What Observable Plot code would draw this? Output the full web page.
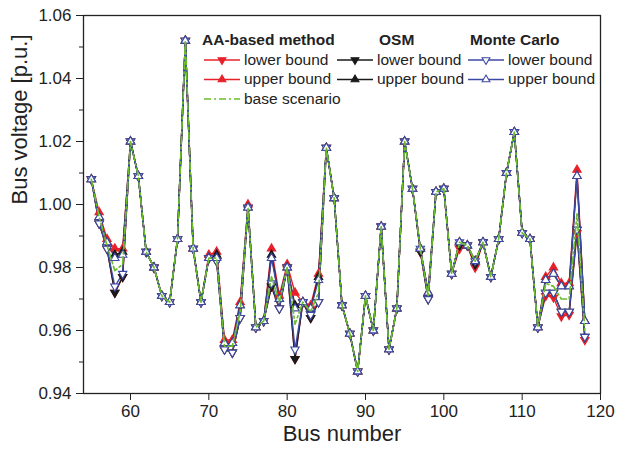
<!DOCTYPE html>
<html><head><meta charset="utf-8">
<script src="https://cdn.jsdelivr.net/npm/d3@7"></script>
<script src="https://cdn.jsdelivr.net/npm/@observablehq/plot@0.6"></script>
<style>
html,body{margin:0;padding:0;background:#fff;}
#wrap{position:relative;width:617px;height:453px;font-family:"Liberation Sans",Arial,sans-serif;}
#legend{position:absolute;left:0;top:0;pointer-events:none;}
</style></head><body><div id="wrap"></div>
<script>
// ---- data ----
const bus = [55,56,57,58,59,60,61,62,63,64,65,66,67,68,69,70,71,72,73,74,75,76,77,78,79,80,81,82,83,84,85,86,87,88,89,90,91,92,93,94,95,96,97,98,99,100,101,102,103,104,105,106,107,108,109,110,111,112,113,114,115,116,117,118];

const baseScenario = [1.008,0.996,0.987,0.979,0.981,1.020,1.009,0.985,0.980,0.971,
  0.969,0.989,1.052,0.986,0.969,0.983,0.983,0.955,0.955,0.966,
  0.999,0.961,0.963,0.977,0.969,0.980,0.962,0.969,0.966,0.972,
  1.018,1.002,0.968,0.959,0.947,0.971,0.960,0.993,0.954,0.967,
  1.020,1.005,0.986,0.971,1.004,1.005,0.978,0.988,0.987,0.982,
  0.988,0.977,0.989,1.010,1.023,0.991,0.989,0.961,0.975,0.974,
  0.970,0.970,0.997,0.960];

const aaLower = [1.008,0.994,0.986,0.972,0.977,1.020,1.009,0.985,0.980,0.971,
  0.969,0.989,1.052,0.986,0.969,0.983,0.982,0.954,0.953,0.964,
  0.999,0.961,0.963,0.974,0.967,0.980,0.951,0.969,0.964,0.969,
  1.018,1.002,0.968,0.959,0.947,0.971,0.960,0.993,0.954,0.967,
  1.020,1.005,0.985,0.970,1.004,1.005,0.978,0.986,0.987,0.980,
  0.988,0.977,0.989,1.010,1.023,0.991,0.989,0.961,0.971,0.9705,
  0.9645,0.965,0.991,0.957];

const aaUpper = [1.008,0.9975,0.989,0.986,0.986,1.020,1.009,0.985,0.980,0.971,
  0.969,0.989,1.052,0.986,0.969,0.984,0.985,0.957,0.957,0.969,
  1.000,0.961,0.963,0.986,0.971,0.981,0.972,0.969,0.968,0.978,
  1.018,1.002,0.968,0.959,0.947,0.971,0.960,0.993,0.954,0.967,
  1.020,1.005,0.986,0.972,1.004,1.005,0.978,0.988,0.987,0.982,
  0.988,0.977,0.989,1.010,1.023,0.991,0.989,0.961,0.977,0.980,
  0.975,0.975,1.011,0.963];

const osmLower = [1.008,0.994,0.986,0.972,0.977,1.020,1.009,0.985,0.980,0.971,
  0.969,0.989,1.052,0.986,0.969,0.983,0.982,0.954,0.953,0.964,
  0.999,0.961,0.963,0.974,0.967,0.980,0.951,0.969,0.964,0.969,
  1.018,1.002,0.968,0.959,0.947,0.971,0.960,0.993,0.954,0.967,
  1.020,1.005,0.985,0.970,1.004,1.005,0.978,0.987,0.987,0.981,
  0.988,0.977,0.989,1.010,1.023,0.991,0.989,0.961,0.972,0.972,
  0.966,0.966,0.992,0.958];

const osmUpper = [1.008,0.996,0.988,0.984,0.985,1.020,1.009,0.985,0.980,0.971,
  0.969,0.989,1.052,0.986,0.969,0.983,0.984,0.956,0.956,0.968,
  0.999,0.961,0.963,0.984,0.970,0.980,0.968,0.969,0.967,0.977,
  1.018,1.002,0.968,0.959,0.947,0.971,0.960,0.993,0.954,0.967,
  1.020,1.005,0.986,0.972,1.004,1.005,0.978,0.988,0.987,0.982,
  0.988,0.977,0.989,1.010,1.023,0.991,0.989,0.961,0.976,0.978,
  0.974,0.974,1.009,0.963];

const mcLower = [1.008,0.994,0.986,0.974,0.978,1.020,1.009,0.985,0.980,0.971,
  0.969,0.989,1.052,0.986,0.969,0.983,0.982,0.954,0.953,0.964,
  0.999,0.961,0.963,0.975,0.967,0.980,0.954,0.969,0.965,0.969,
  1.018,1.002,0.968,0.959,0.947,0.971,0.960,0.993,0.954,0.967,
  1.020,1.005,0.986,0.970,1.004,1.005,0.978,0.988,0.987,0.982,
  0.988,0.977,0.989,1.010,1.023,0.991,0.989,0.961,0.972,0.972,
  0.966,0.966,0.992,0.958];

const mcUpper = [1.008,0.996,0.988,0.983,0.984,1.020,1.009,0.985,0.980,0.971,
  0.969,0.989,1.052,0.986,0.969,0.983,0.983,0.956,0.956,0.968,
  0.999,0.961,0.963,0.983,0.970,0.980,0.967,0.969,0.967,0.976,
  1.018,1.002,0.968,0.959,0.947,0.971,0.960,0.993,0.954,0.967,
  1.020,1.005,0.986,0.972,1.004,1.005,0.978,0.988,0.987,0.982,
  0.988,0.977,0.989,1.010,1.023,0.991,0.989,0.961,0.976,0.978,
  0.974,0.974,1.009,0.963];

const xTicks = [60,70,80,90,100,110,120];
const yTicks = [0.94,0.96,0.98,1.00,1.02,1.04,1.06];
const yMinorTicks = [0.95,0.97,0.99,1.01,1.03,1.05];

const groupTitles = ["AA-based method","OSM","Monte Carlo"];
const legendLabels = ["lower bound","upper bound","base scenario"];

// ---- styling ----
const RED = "#e8202a", BLACK = "#1a1a1a", BLUE = "#3d4aa3", GREEN = "#6cbd2e";
const FONT = '"Liberation Sans", Arial, sans-serif';

function toRows(vals){ return bus.map((b,i)=>({bus:b, v:vals[i]})); }

const triUp = {draw(ctx, size){ const w=Math.sqrt(size*4/Math.sqrt(3)); const h=w*Math.sqrt(3)/2;
  ctx.moveTo(0,-2*h/3); ctx.lineTo(w/2,h/3); ctx.lineTo(-w/2,h/3); ctx.closePath(); }};
const triDown = {draw(ctx, size){ const w=Math.sqrt(size*4/Math.sqrt(3)); const h=w*Math.sqrt(3)/2;
  ctx.moveTo(0,2*h/3); ctx.lineTo(w/2,-h/3); ctx.lineTo(-w/2,-h/3); ctx.closePath(); }};

const lw = 1.4;
const R = 3.1;
const L = (vals, stroke, extra={}) => Plot.line(toRows(vals), {x:"bus", y:"v", stroke, strokeWidth:lw, ...extra});
const D = (vals, symbol, fill, stroke, extra={}) => Plot.dot(toRows(vals), {x:"bus", y:"v", symbol, r:R, fill, stroke, strokeWidth:1.1, ...extra});

const chart = Plot.plot({
  width: 617, height: 453,
  marginLeft: 83, marginRight: 17, marginTop: 15, marginBottom: 60,
  style: {fontFamily: FONT, fontSize: "17px", color: "#222", background: "#fff", overflow: "visible"},
  x: {domain: [54, 120]},
  y: {domain: [0.94, 1.06]},
  marks: [
    L(aaLower, RED), L(aaUpper, RED),
    L(osmLower, BLACK), L(osmUpper, BLACK),
    L(mcLower, BLUE), L(mcUpper, BLUE),
    D(aaLower, triDown, RED, RED), D(aaUpper, triUp, RED, RED),
    D(osmLower, triDown, BLACK, BLACK), D(osmUpper, triUp, BLACK, BLACK),
    D(mcLower, triDown, "#fff", BLUE), D(mcUpper, triUp, "#fff", BLUE),
    L(baseScenario, GREEN, {strokeDasharray: "7,3,2,3", strokeWidth: 1.7}),
    Plot.frame({stroke: "#222", strokeWidth: 1.3}),
    Plot.axisX({ticks: xTicks, tickSize: 7, tickPadding: 4, tickFormat: d => String(d), label: null, fontSize: 17, stroke: "#222"}),
    Plot.axisY({ticks: yTicks, tickSize: 7, tickPadding: 5, tickFormat: d => d.toFixed(2), label: null, fontSize: 17}),
    Plot.axisY({ticks: yMinorTicks, tickSize: 4, tickFormat: () => "", label: null}),
    Plot.text(["Bus number"], {frameAnchor: "bottom", dy: 47, text: d => d, fontSize: 22, fill: "#222"}),
    Plot.text(["Bus voltage [p.u.]"], {frameAnchor: "left", dx: -64, rotate: -90, text: d => d, fontSize: 22, fill: "#222"})
  ]
});

const wrap = document.getElementById("wrap");
wrap.appendChild(chart);

// ---- legend overlay ----
const ns = "http://www.w3.org/2000/svg";
const leg = document.createElementNS(ns, "svg");
leg.setAttribute("id","legend"); leg.setAttribute("width",617); leg.setAttribute("height",453);
wrap.appendChild(leg);
function el(tag, attrs, text){ const e=document.createElementNS(ns,tag); for(const k in attrs) e.setAttribute(k,attrs[k]); if(text!=null) e.textContent=text; leg.appendChild(e); return e; }
const sym = (type, cx, cy, fill, stroke) => {
  const p = d3.path(); (type==="up"?triUp:triDown).draw(p, Math.PI*2.9*2.9);
  el("path", {d: p.toString(), transform:`translate(${cx},${cy})`, fill, stroke, "stroke-width":1.1});
};
const groups = [
  {title: groupTitles[0], tx: 202, lx: 204, color: RED, fill: RED},
  {title: groupTitles[1], tx: 379, lx: 337, color: BLACK, fill: BLACK},
  {title: groupTitles[2], tx: 470, lx: 468, color: BLUE, fill: "#fff"}
];
const rowsY = [60, 79.5, 99];
groups.forEach(g => {
  el("text", {x: g.tx, y: 41, "font-family": FONT, "font-size": 15.5, "font-weight": "bold", fill: "#222", "dominant-baseline":"middle"}, g.title);
  [0,1].forEach(k => {
    const y = rowsY[k];
    el("line", {x1: g.lx, x2: g.lx+36, y1: y, y2: y, stroke: g.color, "stroke-width": lw});
    sym(k===0?"down":"up", g.lx+18, y, g.fill, g.color);
    el("text", {x: g.lx+40, y: y+0.5, "font-family": FONT, "font-size": 15.5, fill: "#222", "dominant-baseline":"middle"}, legendLabels[k]);
  });
});
el("line", {x1: 204, x2: 240, y1: rowsY[2], y2: rowsY[2], stroke: GREEN, "stroke-width": 1.7, "stroke-dasharray": "7,3,2,3"});
el("text", {x: 244, y: rowsY[2]+0.5, "font-family": FONT, "font-size": 15.5, fill: "#222", "dominant-baseline":"middle"}, legendLabels[2]);
</script></body></html>
